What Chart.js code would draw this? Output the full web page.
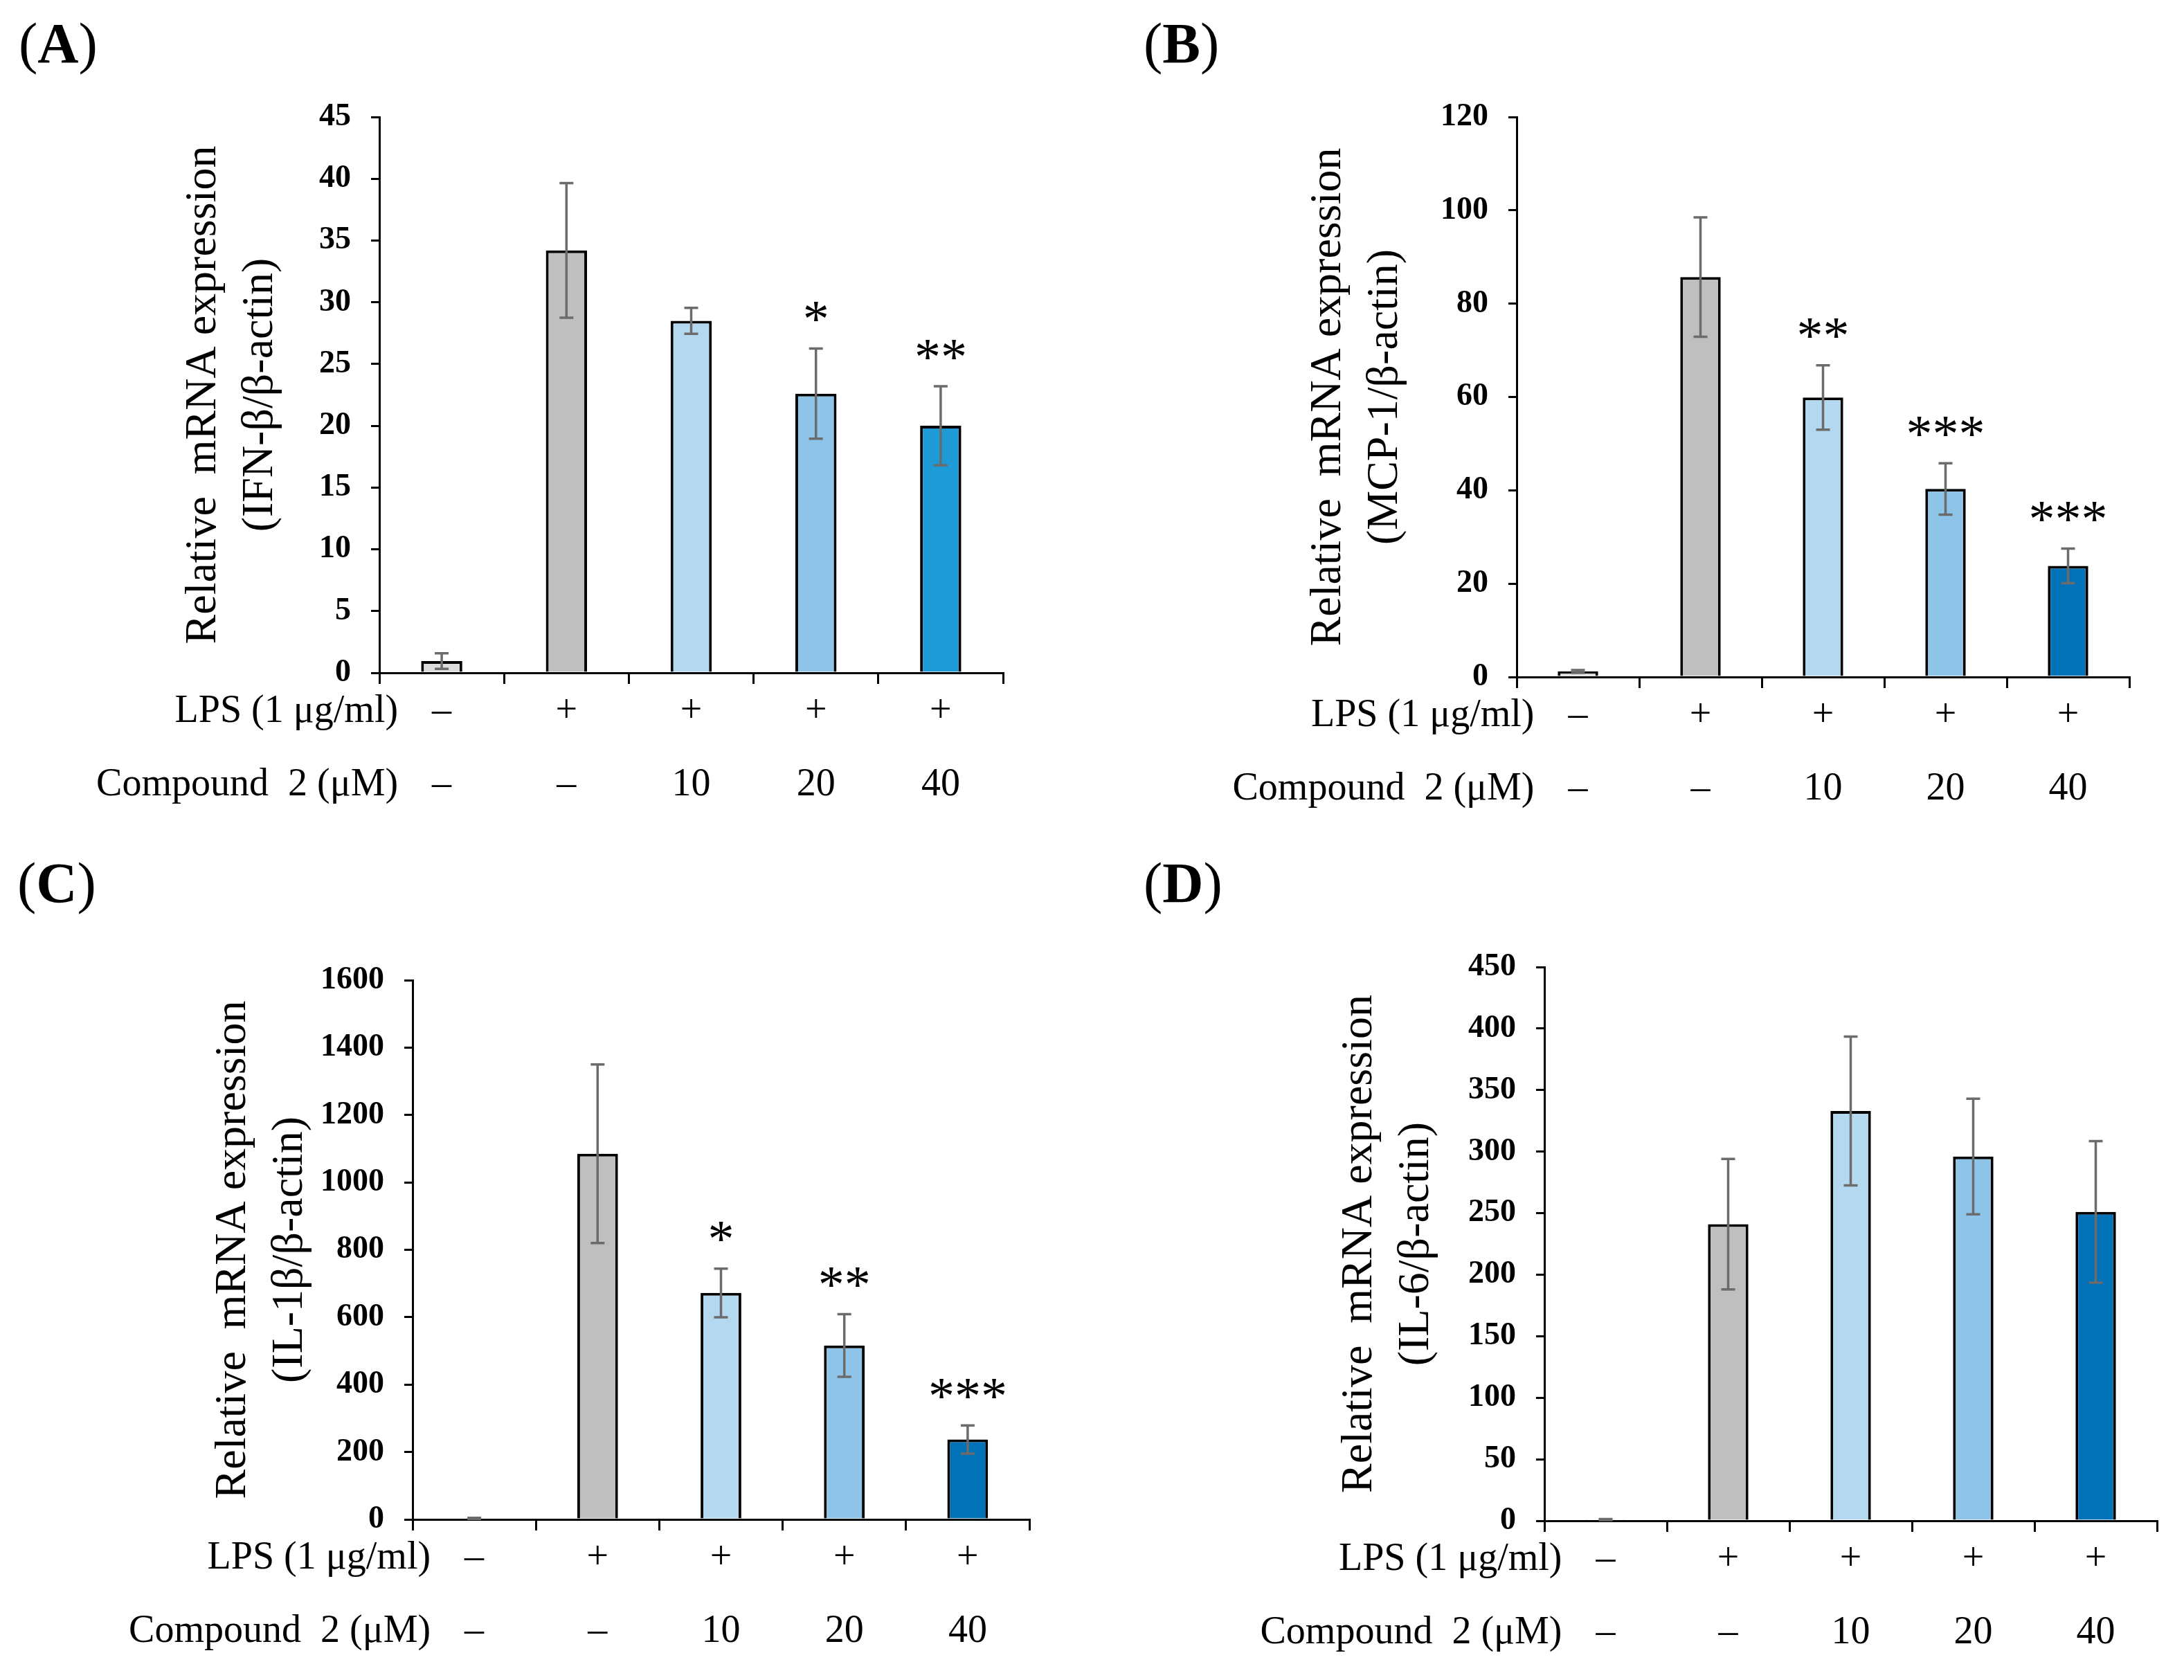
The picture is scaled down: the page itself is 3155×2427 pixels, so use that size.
<!DOCTYPE html>
<html>
<head>
<meta charset="utf-8">
<script src="https://cdn.jsdelivr.net/npm/chart.js@4.4.1/dist/chart.umd.min.js"></script>
<style>
html, body { margin: 0; padding: 0; background: #fff; }
#fig { position: relative; width: 3155px; height: 2427px; background: #fff; }
canvas { position: absolute; }
</style>
</head>
<body>
<div id="fig">
  <canvas id="chartA" width="1577" height="1213" style="left:0px;top:0px;width:1577px;height:1213px"></canvas>
  <canvas id="chartB" width="1577" height="1213" style="left:1577px;top:0px;width:1577px;height:1213px"></canvas>
  <canvas id="chartC" width="1577" height="1213" style="left:0px;top:1213px;width:1577px;height:1213px"></canvas>
  <canvas id="chartD" width="1577" height="1213" style="left:1577px;top:1213px;width:1577px;height:1213px"></canvas>
</div>
<script>
// Treatment rows shown under each x axis
var lpsRow = ['–', '+', '+', '+', '+'];
var compoundRow = ['–', '–', '10', '20', '40'];

// (A) IFN-beta
var ifnMean = [0.95, 34.2, 28.5, 22.6, 20.0];
var ifnErr = [0.63, 5.45, 1.05, 3.65, 3.2];
var ifnStars = ['', '', '', '*', '**'];

// (B) MCP-1
var mcpMean = [1.2, 85.7, 59.9, 40.3, 23.8];
var mcpErr = [0.3, 12.8, 6.9, 5.5, 3.7];
var mcpStars = ['', '', '**', '***', '***'];

// (C) IL-1beta
var il1Mean = [3, 1085, 672, 516, 237];
var il1Err = [1.5, 265, 72, 93, 42];
var il1Stars = ['', '', '*', '**', '***'];

// (D) IL-6
var il6Mean = [1, 241, 333, 296, 251];
var il6Err = [0.4, 53, 60.5, 47, 57.5];
var il6Stars = ['', '', '', '', ''];

var xLabels = lpsRow.map(function(v, i) { return [v, compoundRow[i]]; });

var SERIF = '"Liberation Serif", "Times New Roman", serif';
var LABEL_SIZE = 56;
var LABEL_LH = 1.893;
var X_TICK = 16;
var X_PAD = -13;

var colorsA = ['#dcdcdc', '#bfbfbf', '#b4d8f0', '#8dc4e8', '#1e9bd7'];
var colorsBCD = ['#dcdcdc', '#bfbfbf', '#b4d8f0', '#8dc4e8', '#0272b8'];

var decor = {
    id: 'decor',
    afterDatasetsDraw: function(chart, args, o) {
        var ctx = chart.ctx;
        var ys = chart.scales.y;
        var meta = chart.getDatasetMeta(0);
        ctx.save();
        ctx.strokeStyle = '#6b6b6b';
        ctx.lineWidth = 3.5;
        o.means.forEach(function(m, i) {
            var px = meta.data[i].x;
            var top = ys.getPixelForValue(m + o.errs[i]);
            var bot = ys.getPixelForValue(Math.max(m - o.errs[i], 0));
            ctx.beginPath();
            ctx.moveTo(px, top); ctx.lineTo(px, bot);
            ctx.moveTo(px - 10, top); ctx.lineTo(px + 10, top);
            ctx.moveTo(px - 10, bot); ctx.lineTo(px + 10, bot);
            ctx.stroke();
            if (o.stars[i]) {
                ctx.fillStyle = '#000';
                ctx.font = '76px ' + SERIF;
                ctx.textAlign = 'center';
                ctx.textBaseline = 'alphabetic';
                var mt = ctx.measureText(o.stars[i]);
                var cy = top - 53;
                ctx.fillText(o.stars[i], px, cy + (mt.actualBoundingBoxAscent - mt.actualBoundingBoxDescent) / 2);
            }
        });
        ctx.restore();
    },
    afterDraw: function(chart, args, o) {
        var ctx = chart.ctx;
        var xs = chart.scales.x;
        var meta = chart.getDatasetMeta(0);
        ctx.save();
        ctx.fillStyle = '#000';
        // row headers left of the treatment rows
        var lh = LABEL_SIZE * LABEL_LH;
        var y0 = xs.top + X_TICK + X_PAD + lh / 2;
        var right = meta.data[0].x - 63;
        ctx.font = LABEL_SIZE + 'px ' + SERIF;
        ctx.textAlign = 'right';
        ctx.textBaseline = 'middle';
        ctx.fillText('LPS (1 μg/ml)', right, y0);
        ctx.fillText('Compound  2 (μM)', right, y0 + lh);
        // panel letter
        ctx.textAlign = 'left';
        ctx.textBaseline = 'alphabetic';
        var x = o.letterX, base = 90;
        ctx.font = '82px ' + SERIF;
        ctx.fillText('(', x, base);
        x += ctx.measureText('(').width;
        ctx.font = 'bold 82px ' + SERIF;
        ctx.fillText(o.letter, x, base);
        x += ctx.measureText(o.letter).width;
        ctx.font = '82px ' + SERIF;
        ctx.fillText(')', x, base);
        ctx.restore();
    }
};

function makePanel(p) {
    var canvas = document.getElementById(p.id);
    var W = canvas.width, H = canvas.height;
    var titleLH = 82;
    var padLeft = p.titleX - titleLH / 2;
    var xAxisH = 200;
    return new Chart(canvas.getContext('2d'), {
        type: 'bar',
        data: {
            labels: xLabels,
            datasets: [{
                data: p.means,
                backgroundColor: p.colors,
                borderColor: '#000',
                borderWidth: 4,
                borderSkipped: 'bottom',
                categoryPercentage: 1,
                barPercentage: 0.33
            }]
        },
        options: {
            responsive: false,
            devicePixelRatio: 1,
            animation: false,
            layout: {
                padding: { left: padLeft, top: p.top, right: W - p.right, bottom: H - p.bottom - xAxisH }
            },
            plugins: {
                legend: { display: false },
                tooltip: { enabled: false },
                decor: { letter: p.letter, letterX: p.letterX, means: p.means, errs: p.errs, stars: p.stars }
            },
            scales: {
                x: {
                    afterFit: function(s) { s.height = xAxisH; },
                    border: { display: true, color: '#000', width: 3 },
                    grid: { display: true, drawOnChartArea: false, drawTicks: true, offset: true, tickLength: X_TICK, color: '#000', lineWidth: 3 },
                    ticks: {
                        autoSkip: false, maxRotation: 0, minRotation: 0, padding: X_PAD, color: '#000',
                        font: { family: SERIF, size: LABEL_SIZE, lineHeight: LABEL_LH }
                    }
                },
                y: {
                    min: 0,
                    max: p.max,
                    afterFit: function(s) { s.width = p.left - padLeft; },
                    border: { display: true, color: '#000', width: 3 },
                    grid: { display: true, drawOnChartArea: false, drawTicks: true, tickLength: 12, color: '#000', lineWidth: 3 },
                    ticks: {
                        stepSize: p.step, padding: 29, color: '#000',
                        font: { family: SERIF, size: 46, weight: 'bold' },
                        callback: function(v) { return String(v); }
                    },
                    title: {
                        display: true, text: p.title, color: '#000', padding: 0,
                        font: { family: SERIF, size: 64, lineHeight: titleLH / 64 }
                    }
                }
            }
        },
        plugins: [decor]
    });
}

makePanel({ id: 'chartA', letter: 'A', letterX: 27, title: ['Relative  mRNA expression', '(IFN-β/β-actin)'],
    means: ifnMean, errs: ifnErr, stars: ifnStars, colors: colorsA, max: 45, step: 5,
    left: 548, top: 169, right: 1449, bottom: 972, titleX: 294 });
makePanel({ id: 'chartB', letter: 'B', letterX: 75, title: ['Relative  mRNA expression', '(MCP-1/β-actin)'],
    means: mcpMean, errs: mcpErr, stars: mcpStars, colors: colorsBCD, max: 120, step: 20,
    left: 614, top: 169, right: 1499, bottom: 978, titleX: 342 });
makePanel({ id: 'chartC', letter: 'C', letterX: 25, title: ['Relative  mRNA expression', '(IL-1β/β-actin)'],
    means: il1Mean, errs: il1Err, stars: il1Stars, colors: colorsBCD, max: 1600, step: 200,
    left: 596, top: 203, right: 1487, bottom: 982, titleX: 337 });
makePanel({ id: 'chartD', letter: 'D', letterX: 75, title: ['Relative  mRNA expression', '(IL-6/β-actin)'],
    means: il6Mean, errs: il6Err, stars: il6Stars, colors: colorsBCD, max: 450, step: 50,
    left: 654, top: 184, right: 1539, bottom: 984, titleX: 387 });
</script>
</body>
</html>
